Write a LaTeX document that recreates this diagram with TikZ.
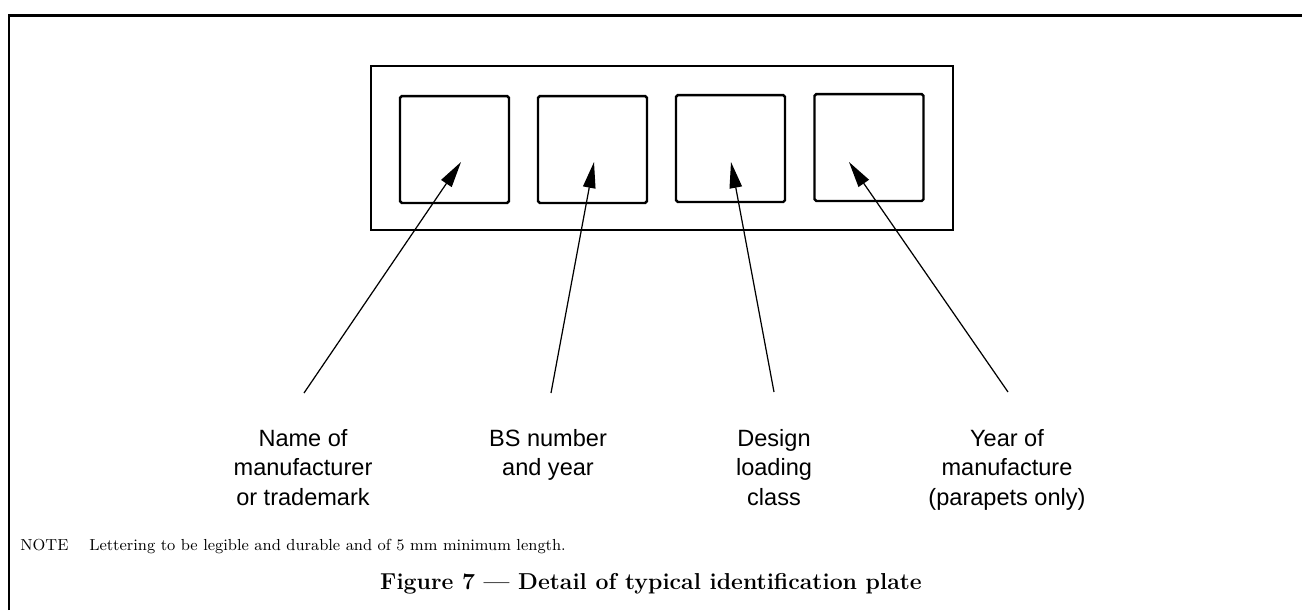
\documentclass[tikz,border=0pt]{standalone}
\usepackage{fontspec}
\newfontfamily\labelfont{Liberation Sans}
\usetikzlibrary{
    arrows.meta,
    positioning
}

\begin{document}
\begin{tikzpicture}[
    x=0.02cm,
    y=-0.02cm,
    frameline/.style={
        line width=1.7pt,
        draw=black
    },
    platebox/.style={
        rectangle,
        draw=black,
        line width=1.4pt,
        minimum width=11.64cm,
        minimum height=3.28cm,
        inner sep=0pt
    },
    cellbox/.style={
        rectangle,
        rounded corners=1pt,
        draw=black,
        line width=1.4pt,
        minimum width=2.18cm,
        minimum height=2.14cm,
        inner sep=0pt
    },
    pointer/.style={
        -{Triangle[length=5.2mm,width=2.5mm]},
        line width=0.7pt,
        draw=black
    },
    callout/.style={
        font=\labelfont\fontsize{13.4}{16.7}\selectfont,
        align=center,
        anchor=north,
        inner sep=0pt
    },
    note/.style={
        font=\fontsize{9.1}{10}\selectfont,
        anchor=west,
        inner sep=0pt
    },
    caption/.style={
        font=\bfseries\fontsize{13.1}{15}\selectfont,
        inner sep=0pt
    }
]
\useasboundingbox (0,0) rectangle (1302,610);

% =========================================================
% Page frame
% =========================================================
\draw[frameline] (9,610) |- (1302,15);

% =========================================================
% Identification plate
% =========================================================
\node[platebox] (plate) at (662,148) {};

\node[cellbox] (cell1) at (454.5,149.5) {};
\node[cellbox] (cell2) at (592.5,149.5) {};
\node[cellbox] (cell3) at (730.5,148.5) {};
\node[cellbox] (cell4) at (869,147.5) {};

% =========================================================
% Callouts
% =========================================================
\node[callout] (name) at (303,429)
{Name of\\manufacturer\\or trademark};

\node[callout] (bsno) at (548,429)
{BS number\\and year};

\node[callout] (design) at (774,429)
{Design\\loading\\class};

\node[callout] (year) at (1007,429)
{Year of\\manufacture\\(parapets only)};

\coordinate (tip1) at (461,162);
\coordinate (tip2) at (594,162);
\coordinate (tip3) at (731,162);
\coordinate (tip4) at (849,162);

\coordinate (tail1) at (304,393);
\coordinate (tail2) at (551,393);
\coordinate (tail3) at (774,392);
\coordinate (tail4) at (1008,392);

\draw[pointer] (tail1) -- (tip1);
\draw[pointer] (tail2) -- (tip2);
\draw[pointer] (tail3) -- (tip3);
\draw[pointer] (tail4) -- (tip4);

% =========================================================
% Note and caption
% =========================================================
\node[note] (notetext) at (20,546)
{NOTE\hspace{1.3em}Lettering to be legible and durable and of 5 mm minimum length.};

\node[caption] (figcap) at (651,584)
{Figure 7 --- Detail of typical identification plate};

\end{tikzpicture}
\end{document}
